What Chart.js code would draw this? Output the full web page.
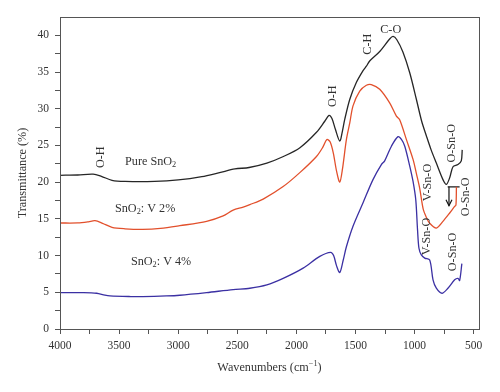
<!DOCTYPE html>
<html><head><meta charset="utf-8">
<script src="https://cdn.jsdelivr.net/npm/chart.js@4/dist/chart.umd.min.js"></script>
<style>html,body{margin:0;padding:0;background:#fff}canvas{display:block}</style>
</head><body>
<canvas id="c" width="500" height="392"></canvas>
<script>
// ---- data (wavenumber cm^-1, transmittance %) ----
const pureWn = [4000,3850,3720,3650,3560,3450,3200,3000,2800,2650,2520,2400,2250,2110,1970,1830,1760,1724,1700,1670,1633,1610,1591,1548,1492,1436,1408,1380,1295,1211,1182,1150,1098,1041,985,940,900,860,816,760,731,703,675,633,605,597];
const pureT  = [20.94,20.98,21.1,20.8,20.25,20.1,20.1,20.3,20.75,21.3,21.8,22.0,22.6,23.5,24.7,26.8,28.3,29.1,28.7,27.2,25.6,27.0,28.55,31.3,33.6,35.2,35.8,36.5,37.8,39.5,39.85,39.4,37.7,34.9,31.3,28.3,26.3,24.4,22.6,20.35,19.7,20.6,22.1,22.4,22.9,24.4];

const v2Wn = [4000,3850,3760,3704,3640,3560,3450,3300,3150,2986,2760,2620,2535,2450,2394,2281,2112,1971,1830,1775,1742,1715,1688,1660,1633,1610,1577,1548,1521,1464,1408,1366,1295,1211,1154,1126,1069,1013,985,957,928,900,872,816,760,703,661,650,646];
const v2T  = [14.44,14.45,14.6,14.75,14.4,13.85,13.65,13.57,13.7,14.07,14.66,15.4,16.2,16.6,16.94,17.7,19.4,21.3,23.5,24.8,25.8,25.5,24.0,21.5,20.0,21.8,25.8,28.1,30.4,32.4,33.2,33.3,32.65,30.8,29.0,28.5,25.8,23.1,21.2,19.2,16.4,15.2,14.4,13.75,14.66,15.8,16.7,16.9,19.36];

const v4Wn = [4000,3800,3690,3620,3577,3400,3300,3100,2986,2760,2535,2394,2250,2112,1943,1802,1710,1685,1660,1633,1605,1577,1521,1436,1352,1281,1253,1196,1140,1110,1083,1041,1013,990,975,963,943,914,872,844,816,768,718,661,633,619,600];
const v4T  = [4.96,4.96,4.87,4.6,4.5,4.42,4.41,4.5,4.6,4.96,5.37,5.55,6.0,6.9,8.3,9.9,10.45,10.0,8.6,7.7,9.3,11.2,14.0,17.2,20.35,22.4,22.9,24.9,26.2,25.8,24.9,22.2,20.1,17.6,13.5,11.0,10.1,9.66,9.4,6.7,5.56,4.87,5.56,6.7,6.9,6.6,8.9];

// bracket / arrow annotation (data units)
const bracketWn = [720, 619];
const bracketT  = [19.36, 19.36];
const arrowWn = [709, 709];
const arrowT  = [19.36, 16.8];

// ticks
const xTicks = [];
for (let v = 4000; v >= 500; v -= 250) xTicks.push(v);
const yTicks = [];
for (let v = 0; v <= 40; v += 2.5) yTicks.push(v);

// text annotations
const notes = [
  {parts:[['O-H']], wn:3653, t:23.4, rot:true},
  {parts:[['Pure SnO'],['2','sub']], wn:3450, t:22.8, align:'left'},
  {parts:[['SnO'],['2','sub'],[': V 2%']], wn:3535, t:16.4, align:'left'},
  {parts:[['SnO'],['2','sub'],[': V 4%']], wn:3400, t:9.15, align:'left'},
  {parts:[['O-H']], wn:1692, t:31.7, rot:true},
  {parts:[['C-H']], wn:1396, t:38.8, rot:true},
  {parts:[['C-O']], wn:1202, t:40.7, align:'center'},
  {parts:[['O-Sn-O']], wn:689, t:25.3, rot:true},
  {parts:[['V-Sn-O']], wn:887, t:19.95, rot:true},
  {parts:[['O-Sn-O']], wn:568, t:18.0, rot:true},
  {parts:[['V-Sn-O']], wn:900, t:12.6, rot:true},
  {parts:[['O-Sn-O']], wn:680, t:10.5, rot:true}
];

const FONT = '"Liberation Serif", "Times New Roman", serif';
const TXT = '#333';
const zip = (a, b) => a.map((x, i) => ({x: x, y: b[i]}));

function richWidth(ctx, parts, size) {
  let w = 0;
  for (const p of parts) {
    const s = p[1] ? size * 0.68 : size;
    ctx.font = s + 'px ' + FONT;
    w += ctx.measureText(p[0]).width;
  }
  return w;
}
function drawRich(ctx, parts, x, y, align, size) {
  const w = richWidth(ctx, parts, size);
  let cx = align === 'left' ? x : (align === 'right' ? x - w : x - w / 2);
  ctx.textAlign = 'left';
  ctx.textBaseline = 'middle';
  for (const p of parts) {
    let s = size, dy = 0;
    if (p[1] === 'sub') { s = size * 0.68; dy = size * 0.28; }
    if (p[1] === 'sup') { s = size * 0.68; dy = -size * 0.35; }
    ctx.font = s + 'px ' + FONT;
    ctx.fillText(p[0], cx, y + dy);
    cx += ctx.measureText(p[0]).width;
  }
}

const decor = {
  id: 'decor',
  afterDatasetsDraw(chart) {
    const {ctx, chartArea: a, scales: {x, y}} = chart;
    ctx.save();
    // frame
    ctx.strokeStyle = '#555';
    ctx.lineWidth = 1;
    ctx.strokeRect(Math.round(a.left) + 0.5, Math.round(a.top) + 0.5, Math.round(a.right - a.left), Math.round(a.bottom - a.top));
    // arrow
    const ax = x.getPixelForValue(arrowWn[0]);
    const ay1 = y.getPixelForValue(arrowT[0]);
    const ay2 = y.getPixelForValue(arrowT[1]);
    ctx.strokeStyle = '#111';
    ctx.lineWidth = 1.2;
    ctx.beginPath(); ctx.moveTo(ax, ay1); ctx.lineTo(ax, ay2); ctx.stroke();
    ctx.beginPath(); ctx.moveTo(ax - 3, ay2 - 6); ctx.lineTo(ax, ay2); ctx.lineTo(ax + 3, ay2 - 6); ctx.stroke();
    // notes
    ctx.fillStyle = TXT;
    for (const n of notes) {
      const px = x.getPixelForValue(n.wn), py = y.getPixelForValue(n.t);
      if (n.rot) {
        ctx.save(); ctx.translate(px, py); ctx.rotate(-Math.PI / 2);
        drawRich(ctx, n.parts, 0, 0, 'center', 12.2);
        ctx.restore();
      } else {
        drawRich(ctx, n.parts, px, py, n.align || 'center', 12.2);
      }
    }
    // axis titles
    drawRich(ctx, [['Wavenumbers (cm'], ['\u22121', 'sup'], [')']], (a.left + a.right) / 2, 368, 'center', 12.2);
    ctx.save(); ctx.translate(23, (a.top + a.bottom) / 2); ctx.rotate(-Math.PI / 2);
    drawRich(ctx, [['Transmittance (%)']], 0, 0, 'center', 12.2);
    ctx.restore();
    ctx.restore();
  }
};

const lineDs = (label, d, color) => ({
  label, data: d, borderColor: color, borderWidth: 1.3, pointRadius: 0,
  fill: false, tension: 0.3
});

new Chart(document.getElementById('c'), {
  type: 'line',
  data: {
    datasets: [
      lineDs('Pure SnO2', zip(pureWn, pureT), '#262626'),
      lineDs('SnO2: V 2%', zip(v2Wn, v2T), '#e2502c'),
      lineDs('SnO2: V 4%', zip(v4Wn, v4T), '#3b30a3'),
      {label: 'bracket', data: zip(bracketWn, bracketT), borderColor: '#222', borderWidth: 1.3, pointRadius: 0, tension: 0}
    ]
  },
  options: {
    responsive: false,
    animation: false,
    events: [],
    layout: {padding: {left: 0, top: 17, right: 21, bottom: 0}},
    plugins: {legend: {display: false}, tooltip: {enabled: false}},
    scales: {
      x: {
        type: 'linear', reverse: true, min: 455, max: 4000,
        afterBuildTicks: s => { s.ticks = xTicks.map(v => ({value: v})); },
        afterFit: s => { s.height = 63; },
        grid: {drawOnChartArea: false, tickLength: 5, color: '#555'},
        border: {color: '#555', width: 1},
        ticks: {
          autoSkip: false, maxRotation: 0, padding: 5, color: TXT,
          font: {family: FONT, size: 11.5},
          callback: v => (v % 500 === 0 ? String(v) : '')
        }
      },
      y: {
        type: 'linear', min: 0, max: 42.5,
        afterBuildTicks: s => { s.ticks = yTicks.map(v => ({value: v})); },
        afterFit: s => { s.width = 60; },
        grid: {drawOnChartArea: false, tickLength: 5, color: '#555'},
        border: {color: '#555', width: 1},
        ticks: {
          autoSkip: false, padding: 6, color: TXT,
          font: {family: FONT, size: 11.5},
          callback: v => (v % 5 === 0 ? String(v) : '')
        }
      }
    }
  },
  plugins: [decor]
});
</script>
</body></html>
